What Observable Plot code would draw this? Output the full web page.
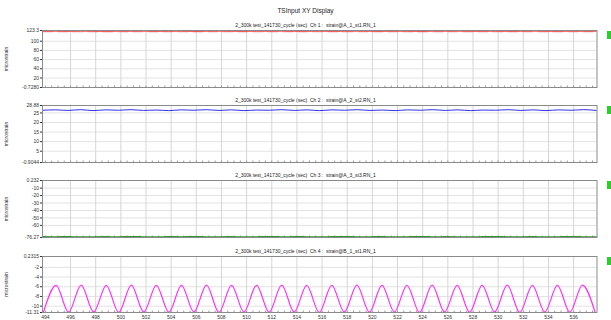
<!DOCTYPE html>
<html>
<head>
<meta charset="utf-8">
<script src="https://cdn.jsdelivr.net/npm/d3@7"></script>
<script src="https://cdn.jsdelivr.net/npm/@observablehq/plot@0.6"></script>
<style>
  html, body { margin: 0; padding: 0; background: #fff; }
  #root { position: relative; width: 611px; height: 320px; overflow: hidden; font-family: "Liberation Sans", Arial, sans-serif; }
  .title { position: absolute; left: 0; width: 611px; text-align: center; color: #222; white-space: pre; }
  .marker { position: absolute; left: 607px; width: 5px; height: 8px; background: #2ecc2e; }
</style>
</head>
<body>
<div id="root"></div>
<script>
// ---------- data ----------
const chartTitle = "TSInput XY Display";
const panelTitles = [
  "2_300k test_141730_cycle (sec)  Ch 1 :  strain@A_1_st1.RN_1",
  "2_300k test_141730_cycle (sec)  Ch 2 :  strain@A_2_st2.RN_1",
  "2_300k test_141730_cycle (sec)  Ch 3 :  strain@A_3_st3.RN_1",
  "2_300k test_141730_cycle (sec)  Ch 4 :  strain@B_1_st1.RN_1"
];
const yAxisLabel = "microstrain";
const xDomain = [493.77, 537.86];
const xTicks = [494,496,498,500,502,504,506,508,510,512,514,516,518,520,522,524,526,528,530,532,534,536];

const y1Ticks = [-0.728, 20, 40, 60, 80, 100, 123.3];
const y1Labels = ["-0.7280","20","40","60","80","100","123.3"];
const y2Ticks = [-0.9044, 5, 10, 15, 20, 25, 28.88];
const y2Labels = ["-0.9044","5","10","15","20","25","28.88"];
const y3Ticks = [-76.27, -60, -50, -40, -30, -20, -10, 0.232];
const y3Labels = ["-76.27","-60","-50","-40","-30","-20","-10","0.232"];
const y4Ticks = [-11.31, -10, -8, -6, -4, -2, 0.2315];
const y4Labels = ["-11.31","-10","-8","-6","-4","-2","0.2315"];

const sampleTime = [493.8,494.8,495.8,496.8,497.8,498.8,499.8,500.8,501.8,502.8,503.8,504.8,505.8,506.8,507.8,508.8,509.8,510.8,511.8,512.8,513.8,514.8,515.8,516.8,517.8,518.8,519.8,520.8,521.8,522.8,523.8,524.8,525.8,526.8,527.8,528.8,529.8,530.8,531.8,532.8,533.8,534.8,535.8,536.8,537.8];
const ch1Values = [121.9,122.0,121.8,122.1,121.9,121.7,122.0,121.9,122.1,121.8,121.9,122.0,121.7,121.9,122.1,121.9,121.8,122.0,121.9,122.1,121.8,121.9,122.0,121.8,121.9,122.1,121.9,121.8,122.0,121.9,121.7,122.0,121.9,122.1,121.8,121.9,122.0,121.8,121.9,122.1,121.9,121.8,122.0,121.9,121.9];
const ch1Low = [120.2,120.4,120.1,120.3,120.2,120.0,120.3,120.2,120.4,120.1,120.2,120.3,120.0,120.2,120.4,120.2,120.1,120.3,120.2,120.4,120.1,120.2,120.3,120.1,120.2,120.4,120.2,120.1,120.3,120.2,120.0,120.3,120.2,120.4,120.1,120.2,120.3,120.1,120.2,120.4,120.2,120.1,120.3,120.2,120.2];
const ch2Values = [26.4,26.6,26.3,26.7,26.2,26.6,26.4,26.7,26.3,26.5,26.2,26.6,26.4,26.7,26.3,26.6,26.2,26.5,26.4,26.7,26.3,26.6,26.2,26.6,26.4,26.7,26.3,26.5,26.2,26.6,26.4,26.7,26.3,26.6,26.2,26.5,26.4,26.7,26.3,26.6,26.2,26.6,26.4,26.7,26.3];
const ch3Values = [-75.1,-75.3,-75.0,-75.4,-75.2,-75.1,-75.3,-75.0,-75.2,-75.4,-75.1,-75.2,-75.0,-75.3,-75.2,-75.1,-75.4,-75.2,-75.0,-75.3,-75.1,-75.2,-75.4,-75.1,-75.0,-75.3,-75.2,-75.1,-75.4,-75.2,-75.0,-75.3,-75.1,-75.2,-75.4,-75.1,-75.0,-75.3,-75.2,-75.1,-75.4,-75.2,-75.0,-75.3,-75.2];
// Ch 4: times and values of successive troughs / peaks
const ch4Time = [493.85,494.85,495.84,496.84,497.84,498.84,499.83,500.83,501.82,502.82,503.82,504.82,505.81,506.81,507.80,508.80,509.79,510.79,511.79,512.79,513.78,514.78,515.77,516.77,517.77,518.77,519.76,520.76,521.75,522.75,523.75,524.75,525.74,526.74,527.73,528.73,529.72,530.72,531.72,532.72,533.71,534.71,535.70,536.70,537.70];
const ch4Values = [-11.2,-5.7,-11.25,-5.65,-11.2,-5.7,-11.3,-5.65,-11.2,-5.7,-11.25,-5.7,-11.2,-5.65,-11.3,-5.7,-11.2,-5.7,-11.25,-5.65,-11.2,-5.7,-11.3,-5.7,-11.2,-5.65,-11.25,-5.7,-11.2,-5.7,-11.3,-5.65,-11.2,-5.7,-11.25,-5.7,-11.2,-5.65,-11.3,-5.7,-11.2,-5.7,-11.25,-5.65,-11.2];

// ---------- layout ----------
const root = document.getElementById("root");
const FONT = "'Liberation Sans', Arial, sans-serif";
const xMinor = d3.range(494, 537.9, 0.5);

function addText(txt, top, size) {
  const d = document.createElement("div");
  d.className = "title";
  d.style.top = top + "px";
  d.style.fontSize = size + "px";
  d.style.lineHeight = size + "px";
  d.textContent = txt;
  root.appendChild(d);
}
addText(chartTitle, 8, 6.5);

const panels = [
  {top: 30, h: 57, ticks: y1Ticks, labels: y1Labels,
   lines: [{t: sampleTime, v: ch1Low, color: "#f4a0a0", width: 0.8, dash: "10,5"},
           {t: sampleTime, v: ch1Values, color: "#ee2222", width: 1}]},
  {top: 105, h: 57, ticks: y2Ticks, labels: y2Labels,
   lines: [{t: sampleTime, v: ch2Values, color: "#3030e8", width: 1}]},
  {top: 180, h: 57, ticks: y3Ticks, labels: y3Labels,
   lines: [{t: sampleTime, v: ch3Values, color: "#2e9a2e", width: 1.1}]},
  {top: 256, h: 56, ticks: y4Ticks, labels: y4Labels, showX: true,
   lines: [{t: ch4Time, v: ch4Values, color: "#ff33ff", width: 1.2}]}
];

panels.forEach((p, i) => {
  const mt = 4, mb = p.showX ? 10 : 4;
  const yDomain = [p.ticks[0], p.ticks[p.ticks.length - 1]];
  const fmt = d => p.labels[p.ticks.indexOf(d)];
  const marks = [
    Plot.gridY(p.ticks.slice(1, -1), {stroke: "#e2e2e2", strokeOpacity: 1}),
    Plot.gridX(xTicks.slice(1), {stroke: "#d6d6d6", strokeOpacity: 1}),
    Plot.axisY({ticks: p.ticks, tickFormat: fmt, tickSize: 2, tickPadding: 1.5,
      fontSize: 5, label: yAxisLabel, labelAnchor: "center", labelArrow: "none", labelOffset: 38}),
    Plot.axisX({ticks: xMinor, tickSize: -1.5, tickFormat: () => "", label: null, stroke: "#999"}),
  ];
  if (p.showX) {
    marks.push(Plot.axisX({ticks: xTicks, tickSize: 0, tickPadding: 3, fontSize: 5, label: null}));
  }
  p.lines.forEach(l => {
    const data = l.t.map((t, k) => ({t, v: l.v[k]}));
    marks.push(Plot.line(data, {x: "t", y: "v", stroke: l.color, strokeWidth: l.width,
      strokeDasharray: l.dash, curve: "monotone-x"}));
  });
  marks.push(Plot.frame({stroke: "#8a8a8a"}));
  const svg = Plot.plot({
    width: 611, height: mt + p.h + mb,
    marginLeft: 42, marginRight: 14.5, marginTop: mt, marginBottom: mb,
    x: {domain: xDomain},
    y: {domain: yDomain},
    style: {fontFamily: FONT, fontSize: "5px", color: "#333", background: "transparent", overflow: "visible"},
    marks
  });
  svg.style.position = "absolute";
  svg.style.left = "0px";
  svg.style.top = (p.top - mt) + "px";
  root.appendChild(svg);
  addText(panelTitles[i], p.top - 7, 5);
  const m = document.createElement("div");
  m.className = "marker";
  m.style.top = (p.top + 1) + "px";
  root.appendChild(m);
});
</script>
</body>
</html>
